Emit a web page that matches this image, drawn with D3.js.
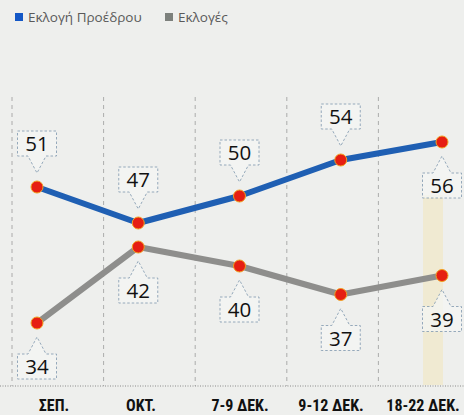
<!DOCTYPE html>
<html><head><meta charset="utf-8">
<script src="https://cdn.jsdelivr.net/npm/d3@7"></script>
<style>
html,body{margin:0;padding:0;background:#eeefed;}
svg{display:block;}
</style></head>
<body>
<svg id="c" width="464" height="415"></svg>
<script>
const categories = ["ΣΕΠ.", "ΟΚΤ.", "7-9 ΔΕΚ.", "9-12 ΔΕΚ.", "18-22 ΔΕΚ."];
const presidentValues = [51, 47, 50, 54, 56];
const electionValues = [34, 42, 40, 37, 39];
const seriesNames = ["Εκλογή Προέδρου", "Εκλογές"];
const seriesColors = ["#1f5fb3", "#8e8e8c"];
// callout placement for each point: -1 above, 1 below
const presidentSide = [-1, -1, -1, -1, 1];
const electionSide = [1, 1, 1, 1, 1];

const svg = d3.select("#c");
const W = 464, H = 415;

svg.append("rect").attr("width", W).attr("height", H).attr("fill", "#eeefed");

const x = d3.scalePoint().domain(categories).range([37, 442]);
const grid = d3.scaleBand().domain(categories).range([12, 470]).paddingInner(0);
const yP = d3.scaleLinear().domain([30, 60]).range([376, 106]);
const yE = d3.scaleLinear().domain([30, 60]).range([361, 76]);

// highlight band on last category
svg.append("rect")
  .attr("x", x(categories[4]) - 19).attr("width", 20)
  .attr("y", 195).attr("height", 190)
  .attr("fill", "#f1e6b8").attr("opacity", 0.5);

// vertical dashed gridlines
svg.append("g").selectAll("line").data(categories).join("line")
  .attr("x1", d => grid(d)).attr("x2", d => grid(d))
  .attr("y1", 97).attr("y2", 386)
  .attr("stroke", "#9a9a9a").attr("stroke-width", 0.8)
  .attr("stroke-dasharray", "4,4");

// baseline
svg.append("line").attr("x1", 0).attr("x2", W).attr("y1", 386).attr("y2", 386)
  .attr("stroke", "#8a8a8a").attr("stroke-width", 1).attr("stroke-dasharray", "1,1.5");

// x axis labels
const labelX = [54, 141, 240, 331, 423];
svg.append("g").selectAll("text").data(categories).join("text")
  .attr("x", (d, i) => labelX[i]).attr("y", 411)
  .attr("text-anchor", "middle")
  .attr("font-family", "'Liberation Sans Narrow', 'Roboto Condensed', 'Liberation Sans', sans-serif")
  .attr("font-weight", "bold").attr("font-size", 16)
  .attr("fill", "#111")
  .text(d => d);

// legend
const leg = svg.append("g");
const legX = [15, 165];
seriesNames.forEach((n, i) => {
  leg.append("rect").attr("x", legX[i]).attr("y", 13).attr("width", 8).attr("height", 8)
    .attr("fill", i === 0 ? "#1357c6" : "#7c807c");
  leg.append("text").attr("x", legX[i] + 13).attr("y", 22)
    .attr("font-family", "'Open Sans', 'Noto Sans', sans-serif").attr("font-size", 13.5)
    .attr("fill", "#5a5a5a").text(n);
});

function drawSeries(vals, y, color, sides) {
  const data = vals.map((v, i) => ({c: categories[i], v, s: sides[i]}));
  const line = d3.line().x(d => x(d.c)).y(d => y(d.v));
  svg.append("path").datum(data).attr("d", line)
    .attr("fill", "none").attr("stroke", color).attr("stroke-width", 6)
    .attr("stroke-linejoin", "round");
  return data;
}

function drawCallouts(data, y) {
  const g = svg.append("g");
  data.forEach(d => {
    const px = x(d.c), py = y(d.v);
    const bw = 39, bh = 25, gap = 31, tipGap = 14;
    const bx = Math.min(px - bw / 2, W - bw - 2);
    const tipY = py + d.s * tipGap;
    const edgeY = py + d.s * gap;
    const by = d.s < 0 ? edgeY - bh : edgeY;
    const col = "#8aa0b4";
    const l = px - 9, r = px + 9;
    let p;
    if (d.s < 0) {
      p = `M${bx},${by} H${bx + bw} V${edgeY} H${r} L${px},${tipY} L${l},${edgeY} H${bx} Z`;
    } else {
      p = `M${bx},${edgeY} H${l} L${px},${tipY} L${r},${edgeY} H${bx + bw} V${edgeY + bh} H${bx} Z`;
    }
    g.append("path").attr("d", p).attr("fill", "#f4f5f3").attr("fill-opacity", 0.8)
      .attr("stroke", col).attr("stroke-width", 0.9).attr("stroke-dasharray", "2.5,2");
    g.append("text").attr("x", bx + bw / 2).attr("y", by + bh / 2 + 7.5)
      .attr("text-anchor", "middle")
      .attr("font-family", "'Open Sans', 'Noto Sans', sans-serif").attr("font-size", 20.5)
      .attr("fill", "#111").text(d.v);
  });
}

function drawDots(data, y) {
  svg.append("g").selectAll("circle").data(data).join("circle")
    .attr("cx", d => x(d.c)).attr("cy", d => y(d.v)).attr("r", 6)
    .attr("fill", "#e61e12").attr("stroke", "#f2a020").attr("stroke-width", 1);
}

const dE = drawSeries(electionValues, yE, seriesColors[1], electionSide);
const dP = drawSeries(presidentValues, yP, seriesColors[0], presidentSide);
drawCallouts(dP, yP);
drawCallouts(dE, yE);
drawDots(dE, yE);
drawDots(dP, yP);
</script>
</body></html>
